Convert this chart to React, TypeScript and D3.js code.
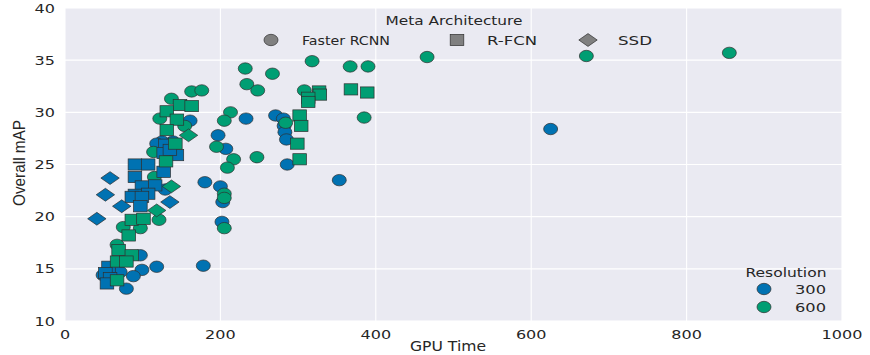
import React from "react";
import * as d3 from "d3";

// ---- data: [GPU time (ms), overall mAP] ----
const fasterRcnn300: [number, number][] = [
  [625, 28.4], [353, 23.5], [271, 29.7], [281, 29.4], [282, 28.7], [283, 28.1], [285, 27.4], [286, 25.0],
  [233, 29.4], [197, 27.8], [207, 26.5], [180, 23.3], [200, 22.9], [203, 21.4], [202, 19.5], [161, 29.2],
  [125, 27.2], [139, 27.2], [118, 27.0], [129, 22.6], [99, 14.9], [118, 15.2], [88, 14.3], [79, 13.1],
  [178, 15.3], [97, 16.3], [49, 14.4], [71, 14.7],
];
const fasterRcnn600: [number, number][] = [
  [671, 35.4], [855, 35.7], [466, 35.3], [318, 34.9], [367, 34.4], [390, 34.4], [232, 34.2], [267, 33.7],
  [234, 32.7], [248, 32.1], [163, 32.0], [176, 32.1], [308, 32.1], [385, 29.5], [213, 30.0], [205, 29.2],
  [284, 29.0], [195, 26.7], [217, 25.5], [209, 24.7], [247, 25.7], [205, 22.2], [205, 21.8], [205, 18.9],
  [137, 31.3], [122, 29.4], [154, 28.7], [114, 26.2], [115, 23.8], [121, 19.7], [75, 19.0], [97, 18.9],
  [67, 17.3],
];
const rfcn300: [number, number][] = [
  [129, 26.9], [127, 26.1], [144, 25.9], [135, 26.4], [90, 25.0], [107, 25.0], [127, 24.3], [90, 23.8],
  [99, 22.9], [116, 23.0], [90, 22.1], [107, 22.2], [86, 21.9], [99, 21.9], [97, 21.0], [56, 15.2],
  [52, 14.6], [58, 14.1], [54, 13.6],
];
const rfcn600: [number, number][] = [
  [327, 32.0], [328, 31.7], [313, 31.4], [313, 31.0], [368, 32.2], [389, 31.9], [302, 29.7], [304, 28.7],
  [299, 27.0], [302, 25.5], [148, 30.7], [163, 30.6], [131, 30.1], [144, 29.3], [131, 28.3], [142, 27.0],
  [130, 25.3], [86, 19.7], [101, 19.8], [82, 18.2], [69, 16.8], [86, 16.3], [67, 15.7], [79, 15.7],
  [67, 13.9],
];
const ssd300: [number, number][] = [[52, 22.1], [73, 21.0], [41, 19.8], [135, 21.4], [58, 23.7]];
const ssd600: [number, number][] = [[159, 27.8], [137, 22.9], [118, 20.6]];

const xTicks = [0, 200, 400, 600, 800, 1000];
const yTicks = [10, 15, 20, 25, 30, 35, 40];
const metaLabels = ["Faster RCNN", "R-FCN", "SSD"];
const resolutionLabels = ["300", "600"];

const BLUE = "#0072B2";
const GREEN = "#009E73";
const EDGE = "#2f2f2f";
const GRAY = "#808080";
const TXT = "#262626";
const FONT = "DejaVu Sans, sans-serif";

const x = d3.scaleLinear().domain([0, 1000]).range([65, 842]);
const y = d3.scaleLinear().domain([10, 40]).range([321, 8]);

type Shape = "circle" | "square" | "diamond";

function Marker({ shape, cx, cy, fill }: { shape: Shape; cx: number; cy: number; fill: string }) {
  if (shape === "circle")
    return <ellipse cx={cx} cy={cy} rx={7} ry={5.7} fill={fill} stroke={EDGE} strokeWidth={0.7} />;
  if (shape === "square")
    return <rect x={cx - 6.8} y={cy - 5.6} width={13.6} height={11.2} fill={fill} stroke={EDGE} strokeWidth={0.7} />;
  return (
    <path
      d={`M${cx - 9.2},${cy} L${cx},${cy - 6.4} L${cx + 9.2},${cy} L${cx},${cy + 6.4} Z`}
      fill={fill}
      stroke={EDGE}
      strokeWidth={0.7}
    />
  );
}

function T({ x: tx, y: ty, text, len, size = 13, anchor = "start", family = FONT, rotate = 0 }: any) {
  return (
    <text
      x={0}
      y={0}
      transform={`translate(${tx},${ty}) rotate(${rotate})`}
      fontFamily={family}
      fontSize={size}
      fill={TXT}
      textAnchor={anchor}
      dominantBaseline="central"
      textLength={len}
      lengthAdjust="spacingAndGlyphs"
    >
      {text}
    </text>
  );
}

export default function App() {
  const series: { data: [number, number][]; shape: Shape; fill: string }[] = [
    { data: fasterRcnn300, shape: "circle", fill: BLUE },
    { data: fasterRcnn600, shape: "circle", fill: GREEN },
    { data: rfcn300, shape: "square", fill: BLUE },
    { data: rfcn600, shape: "square", fill: GREEN },
    { data: ssd300, shape: "diamond", fill: BLUE },
    { data: ssd600, shape: "diamond", fill: GREEN },
  ];
  const [x0, x1] = x.range();
  const [y0, y1] = y.range();
  const metaX = [271, 457, 588];
  const metaTextX = [302, 487, 618];
  const metaLen = [88, 50, 34];
  const shapes: Shape[] = ["circle", "square", "diamond"];
  return (
    <svg width={870} height={355} style={{ position: "absolute", left: 0, top: 0, background: "#fff" }}>
      <rect x={x0} y={y1} width={x1 - x0} height={y0 - y1} fill="#EAEAF2" />
      {xTicks.map((t) => (
        <line key={"gx" + t} x1={x(t)} x2={x(t)} y1={y1} y2={y0} stroke="#fff" strokeWidth={1.1} />
      ))}
      {yTicks.map((t) => (
        <line key={"gy" + t} x1={x0} x2={x1} y1={y(t)} y2={y(t)} stroke="#fff" strokeWidth={1.1} />
      ))}
      {xTicks.map((t) => (
        <T key={"tx" + t} x={x(t)} y={334} text={String(t)} len={String(t).length * 10.2} anchor="middle" />
      ))}
      {yTicks.map((t) => (
        <T key={"ty" + t} x={55} y={y(t)} text={String(t)} len={String(t).length * 10.2} anchor="end" />
      ))}
      <T x={448} y={346} text="GPU Time" len={76} size={14} anchor="middle" />
      <T
        x={19}
        y={163}
        text="Overall mAP"
        len={86}
        size={17}
        anchor="middle"
        rotate={-90}
        family="Liberation Sans Narrow, Liberation Sans, sans-serif"
      />
      {series.map((s, i) => (
        <g key={i}>
          {s.data.map((d, j) => (
            <Marker key={j} shape={s.shape} cx={x(d[0])} cy={y(d[1])} fill={s.fill} />
          ))}
        </g>
      ))}
      {/* Meta Architecture legend */}
      <T x={454} y={20} text="Meta Architecture" len={137} size={13} anchor="middle" />
      {metaLabels.map((m, i) => (
        <g key={m}>
          <Marker shape={shapes[i]} cx={metaX[i]} cy={40} fill={GRAY} />
          <T x={metaTextX[i]} y={40} text={m} len={metaLen[i]} size={13} />
        </g>
      ))}
      {/* Resolution legend */}
      <T x={786} y={272} text="Resolution" len={81} size={13} anchor="middle" />
      {resolutionLabels.map((r, i) => (
        <g key={r}>
          <Marker shape="circle" cx={764} cy={289 + i * 18} fill={i === 0 ? BLUE : GREEN} />
          <T x={795} y={289 + i * 18} text={r} len={31} size={13} />
        </g>
      ))}
    </svg>
  );
}
